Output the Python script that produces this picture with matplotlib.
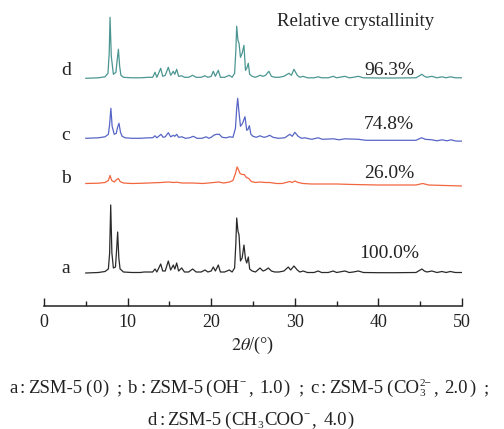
import matplotlib
matplotlib.use("Agg")
import matplotlib.pyplot as plt
from matplotlib.ticker import MultipleLocator

plt.rcParams['font.family'] = ['Liberation Serif', 'DejaVu Serif']
plt.rcParams['mathtext.fontset'] = 'stix'

# ---------------- data ----------------
# curve a : ZSM-5(0)
tt_a = [5.0, 6.5, 7.3, 7.7, 7.85, 7.98, 8.12, 8.3, 8.55, 8.7, 8.81, 8.95, 9.1, 9.25, 9.5, 10.5,
        11.5, 12.0, 12.5, 13.0, 13.28, 13.5, 13.96, 14.2, 14.5, 14.87, 15.15, 15.47, 15.65, 15.87,
        16.1, 16.47, 16.8, 17.3, 17.78, 18.2, 18.8, 19.26, 19.6, 20.0, 20.25, 20.5, 20.85, 21.1,
        21.6, 22.17, 22.5, 22.8, 22.95, 23.05, 23.2, 23.33, 23.5, 23.7, 23.92, 24.1, 24.25, 24.44,
        24.6, 24.9, 25.3, 25.84, 26.2, 26.5, 26.83, 27.2, 27.6, 28.1, 28.7, 29.22, 29.5, 29.9,
        30.3, 30.6, 31.0, 31.5, 32.3, 32.8, 33.2, 34.0, 34.6, 35.0, 36.0, 36.5, 37.0, 37.6, 38.2,
        40.0, 42.0, 44.5, 45.0, 45.2, 45.5, 45.8, 46.4, 47.0, 47.6, 48.1, 48.6, 49.2, 50.0]
int_a = [0, 0.5, 1.5, 4, 20, 68, 20, 5, 6, 25, 41, 15, 4, 3, 1, 0.5,
         0.5, 1, 1, 1, 4, 1, 9, 2, 2, 12, 3, 8, 4, 10,
         2, 5, 1, 1, 4, 1, 1, 3, 1, 2, 6, 2, 8, 1,
         1, 3, 1, 5, 30, 55, 42, 38, 12, 15, 28, 14, 10, 16,
         4, 2, 1, 5, 2, 3, 5, 2, 1, 1, 2, 6, 3, 7,
         3, 1, 2, 0.5, 0.5, 2, 0.5, 0.5, 2, 0.5, 2, 0.5, 1, 2, 0.5,
         0.3, 0.3, 0.5, 3, 4, 2, 1, 2, 0.5, 1.5, 0.5, 1.5, 0.5, 0.5]

# curve b : ZSM-5(OH-, 1.0)
tt_b = [5.0, 6.5, 7.3, 7.7, 7.9, 8.1, 8.4, 8.7, 8.9, 9.1, 9.5, 10.5, 12.0, 13.3, 14.0, 14.87,
        15.5, 15.87, 16.5, 17.8, 19.0, 20.3, 20.9, 21.5, 22.2, 22.6, 22.9, 23.1, 23.3, 23.45,
        23.7, 23.95, 24.2, 24.5, 24.8, 25.3, 25.84, 26.5, 27.0, 27.8, 28.5, 29.4, 29.7, 30.0,
        30.4, 31.0, 32.0, 33.0, 35.0, 37.0, 40.0, 44.5, 45.3, 46.0, 48.0, 50.0]
int_b = [0, 0.3, 1, 3, 8, 3, 1.5, 4, 5, 2, 0.5, 0, 0.3, 0.8, 1, 1.5,
         1, 1.3, 0.5, 0.5, 0, 1, 1.5, 0.5, 1.5, 3, 10, 16.6, 13, 10,
         9, 9, 6, 5, 2, 1, 1.5, 1, 1, 0, 0, 2, 1, 2.5,
         1, 0, -0.5, -0.5, -0.5, -1, -1.5, -1.5, 0, -1.5, -2, -2.5]

# curve c : ZSM-5(CO3 2-, 2.0)
tt_c = [5.0, 6.5, 7.3, 7.7, 7.85, 8.0, 8.15, 8.4, 8.65, 8.8, 8.97, 9.15, 9.35, 9.7, 10.5, 11.5,
        12.5, 13.0, 13.28, 13.5, 14.0, 14.25, 14.5, 14.87, 15.15, 15.47, 15.65, 15.87, 16.1,
        16.5, 16.9, 17.4, 17.86, 18.3, 18.9, 19.4, 19.7, 20.0, 20.3, 20.6, 20.97, 21.3, 21.8,
        22.2, 22.6, 22.9, 23.05, 23.17, 23.3, 23.5, 23.75, 24.04, 24.25, 24.4, 24.56, 24.75,
        25.0, 25.4, 25.84, 26.3, 26.6, 27.0, 27.4, 28.0, 28.8, 29.4, 29.7, 30.0, 30.4, 30.8,
        31.2, 32.0, 32.8, 33.3, 34.6, 35.3, 36.0, 37.6, 38.5, 41.0, 44.5, 45.0, 45.2, 45.6,
        46.4, 47.0, 47.6, 48.2, 48.7, 49.3, 50.0]
int_c = [0, 0.5, 1.5, 4, 14, 30, 12, 4, 5, 11, 15, 6, 2, 0.5, 0, 0,
         0.5, 0.5, 2.5, 0.5, 4, 1, 1.5, 5.6, 1.5, 3, 2, 4, 1,
         1.5, 0, 0.5, 2, 0, 0, 1.5, 0, 1, 3, 4, 4, 1, 0.5,
         1.5, 1, 10, 30, 40, 28, 12, 15, 21.6, 8, 9, 12.6, 4,
         2, 1, 2.5, 1, 1.5, 3, 1, 0, 0.5, 4, 2, 6, 2, 0,
         0.5, -1, 0.5, -1, -0.5, -1.5, -0.5, -1, -2, -2, -2, 0, 0.5, -1,
         -1.5, -2.5, -1.5, -2.5, -1.5, -2.8, -2.8]

# curve d : ZSM-5(CH3COO-, 4.0)
tt_d = [5.0, 6.5, 7.3, 7.65, 7.8, 7.9, 8.05, 8.3, 8.6, 8.75, 8.9, 9.05, 9.2, 9.5, 10.5, 11.5,
        12.5, 13.0, 13.28, 13.5, 13.96, 14.2, 14.5, 14.87, 15.15, 15.47, 15.65, 15.87, 16.1,
        16.47, 16.8, 17.3, 17.78, 18.2, 18.8, 19.26, 19.6, 20.0, 20.25, 20.5, 20.85, 21.1, 21.6,
        22.17, 22.5, 22.8, 22.95, 23.05, 23.2, 23.33, 23.5, 23.7, 23.92, 24.1, 24.25, 24.44,
        24.6, 24.9, 25.3, 25.84, 26.2, 26.5, 26.9, 27.2, 27.6, 28.1, 28.7, 29.3, 29.6, 29.9,
        30.3, 30.6, 31.0, 31.5, 32.3, 32.8, 33.2, 34.0, 34.6, 35.0, 36.0, 36.5, 37.0, 37.6,
        38.2, 40.0, 42.0, 44.5, 45.0, 45.2, 45.5, 45.8, 46.4, 47.0, 47.6, 48.1, 48.6, 49.2, 50.0]
int_d = [0, 0.5, 1.5, 5, 25, 61, 22, 4, 6, 18, 29, 12, 3, 1, 0.5, 0.5,
         1, 1, 6, 1, 10, 2, 3, 11, 3, 7, 4, 9, 2,
         2.5, 1, 1, 3, 1, 1, 2.5, 1, 2, 7, 2, 8, 1, 1,
         3, 1, 5, 28, 52, 38, 35, 21, 25, 33, 8, 10, 15,
         4, 2, 1, 3, 2, 3, 7, 2, 1, 1, 2, 5, 3, 9,
         3, 1, 2, 0.5, 0.5, 1.5, 0.5, 0.5, 2, 0.5, 2, 0.5, 1, 2,
         0.5, 0.3, 0.3, 0.5, 3, 4, 2, 1, 2, 0.5, 1.5, 0.5, 1.5, 0.5, 0.5]

labels = ['a', 'b', 'c', 'd']
crystallinity = ['100.0%', '26.0%', '74.8%', '96.3%']
xticks = [0, 10, 20, 30, 40, 50]

# layout (vertical stacking / text placement, in axis units)
offsets = [33, 122.5, 167.7, 227.7]
letter_y = [33, 123, 166, 231]
pct_y = [48, 128, 177, 231]
colors = ['#2a2a2a', '#f2663f', '#5766c6', '#4b9692']

curves = [(tt_a, int_a), (tt_b, int_b), (tt_c, int_c), (tt_d, int_d)]

# ---------------- figure ----------------
W, H = 504, 429
fig = plt.figure(figsize=(W / 100, H / 100), dpi=100)
ax = fig.add_axes([44 / W, (H - 306) / H, 418 / W, 306 / H])
ax.set_xlim(0, 50)
ax.set_ylim(0, 306)
ax.patch.set_alpha(0)

for (tt, inten), off, col in zip(curves, offsets, colors):
    ax.plot(tt, [v + off for v in inten], color=col, lw=0.9)

for lab, pct, ly, py in zip(labels, crystallinity, letter_y, pct_y):
    ax.text(2.6, ly, lab, fontsize=14, ha='center', va='baseline', color='#222222')
    ax.text(41.3, py, pct, fontsize=14, ha='center', va='baseline', color='#222222')

ax.text(37.3, 280, 'Relative crystallinity', fontsize=13.5, ha='center', va='baseline',
        color='#222222')

for s in ['left', 'right', 'top']:
    ax.spines[s].set_visible(False)
ax.spines['bottom'].set_linewidth(1.1)
ax.spines['bottom'].set_color('#222222')
ax.set_yticks([])
ax.set_xticks(xticks)
ax.xaxis.set_minor_locator(MultipleLocator(5))
ax.tick_params(axis='x', which='major', direction='in', length=6, width=1.0,
               labelsize=13, pad=6, colors='#222222')
ax.tick_params(axis='x', which='minor', direction='in', length=3.5, width=1.0,
               colors='#222222')

fig.text(253 / W, (H - 350) / H, r'$\mathit{2}\mathit{\theta}$/(°)', fontsize=13,
         ha='center', va='baseline', color='#222222')

# ---------------- caption with sub/superscripts ----------------
CAP_FS = 13.5
PAD = {':': (2.5, 3.0), '(': (2.5, 1.0), ')': (1.0, 2.5), ';': (6.0, 6.0), ',': (1.0, 7.0)}

line1 = [("a", 'n'), (":", 'p'), ("ZSM-5", 'n'), ("(", 'p'), ("0", 'n'), (")", 'p'), (";", 'p'),
         ("b", 'n'), (":", 'p'), ("ZSM-5", 'n'), ("(", 'p'), ("OH", 'n'), ("−", 'sup'),
         (",", 'p'), ("1.0", 'n'), (")", 'p'), (";", 'p'),
         ("c", 'n'), (":", 'p'), ("ZSM-5", 'n'), ("(", 'p'), ("CO", 'n'), (("3", "2−"), 'subsup'),
         (",", 'p'), ("2.0", 'n'), (")", 'p'), (";", 'p')]
line2 = [("d", 'n'), (":", 'p'), ("ZSM-5", 'n'), ("(", 'p'), ("CH", 'n'), ("3", 'sub'),
         ("COO", 'n'), ("−", 'sup'), (",", 'p'), ("4.0", 'n'), (")", 'p')]

SMALL = CAP_FS * 0.6


def rich_line(segs):
    items = []
    for txt, kind in segs:
        if kind in ('n', 'p'):
            t = fig.text(0, 0, txt, fontsize=CAP_FS, va='baseline', color='#222222')
            pad = PAD.get(txt, (0, 0)) if kind == 'p' else (0, 0)
            items.append(([(t, 0)], pad))
        elif kind == 'sup':
            t = fig.text(0, 0, txt, fontsize=SMALL, va='baseline', color='#222222')
            items.append(([(t, 7.5)], (0.5, 0.5)))
        elif kind == 'sub':
            t = fig.text(0, 0, txt, fontsize=SMALL, va='baseline', color='#222222')
            items.append(([(t, -3.5)], (0.5, 0.5)))
        else:
            t1 = fig.text(0, 0, txt[0], fontsize=SMALL, va='baseline', color='#222222')
            t2 = fig.text(0, 0, txt[1], fontsize=SMALL, va='baseline', color='#222222')
            items.append(([(t1, -3.5), (t2, 7.5)], (0.5, 0.5)))
    return items


lines = [(rich_line(line1), 393), (rich_line(line2), 425)]
fig.canvas.draw()
r = fig.canvas.get_renderer()
for items, base in lines:
    widths = [max(t.get_window_extent(r).width for t, _ in grp) for grp, _ in items]
    total = sum(w + p[0] + p[1] for w, (_, p) in zip(widths, items))
    x = (W - total) / 2
    for (grp, pad), w in zip(items, widths):
        x += pad[0]
        for t, dy in grp:
            t.set_position((x / W, (H - base + dy) / H))
        x += w + pad[1]

fig.savefig('out.png', dpi=100)
